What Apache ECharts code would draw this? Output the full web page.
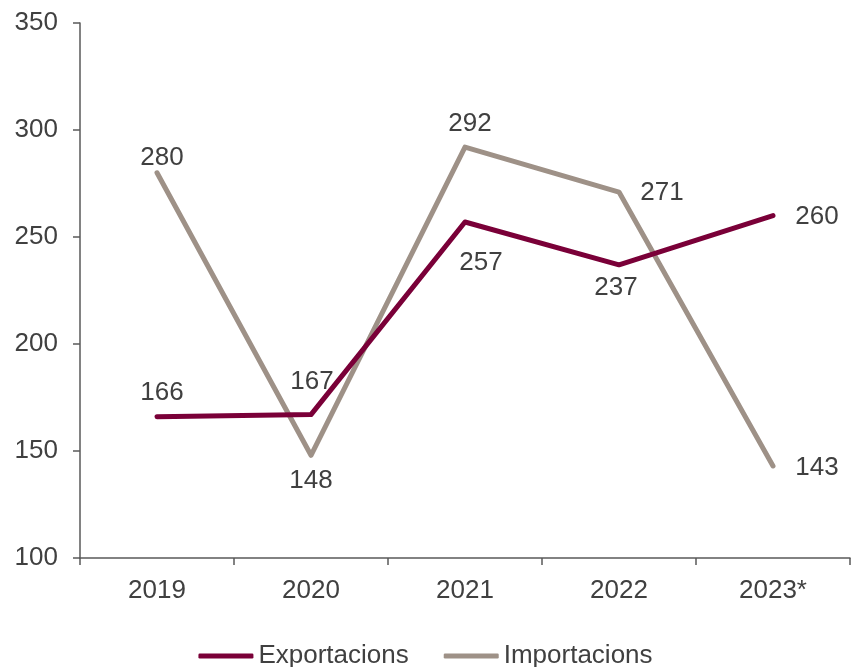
<!DOCTYPE html>
<html>
<head>
<meta charset="utf-8">
<script src="https://cdn.jsdelivr.net/npm/echarts@6/dist/echarts.min.js"></script>
<style>html,body{margin:0;padding:0;background:#fff;}#c{width:851px;height:667px;}</style>
</head>
<body>
<div id="c"></div>
<script>
const categories = ['2019', '2020', '2021', '2022', '2023*'];
const exportacions = [166, 167, 257, 237, 260];
const importacions = [280, 148, 292, 271, 143];
const yTicks = { min: 100, max: 350, interval: 50 };

// label offsets relative to each point (style only)
const expOffsets = [[5, -24], [1, -33], [16, 41], [-3, 23], [44, 1]];
const impOffsets = [[5, -15], [0, 26], [5, -23], [43, 1], [44, 2]];

const FONT = '"Liberation Sans", Arial, sans-serif';
const TXT = '#404040';
const FS = 26;

function mkData(vals, offs) {
  return vals.map((v, i) => ({
    value: v,
    label: { show: true, position: 'inside', offset: offs[i] }
  }));
}

const chart = echarts.init(document.getElementById('c'));
chart.setOption({
  animation: false,
  textStyle: { fontFamily: FONT },
  grid: { left: 80, right: 1, top: 23, bottom: 109, containLabel: false },
  legend: {
    top: 638,
    left: 'center',
    icon: 'roundRect',
    itemWidth: 55,
    itemHeight: 5,
    itemGap: 35,
    textStyle: { fontSize: FS, color: TXT, fontFamily: FONT },
    data: ['Exportacions', 'Importacions']
  },
  xAxis: {
    type: 'category',
    data: categories,
    boundaryGap: true,
    axisLine: { lineStyle: { color: '#595959', width: 1.5 } },
    axisTick: { show: true, length: 7, lineStyle: { color: '#595959', width: 1.5 } },
    axisLabel: { fontSize: FS, color: TXT, margin: 20, fontFamily: FONT },
    splitLine: { show: false }
  },
  yAxis: {
    type: 'value',
    min: yTicks.min, max: yTicks.max, interval: yTicks.interval,
    axisLine: { show: true, lineStyle: { color: '#595959', width: 1.5 } },
    axisTick: { show: true, length: 7, lineStyle: { color: '#595959', width: 1.5 } },
    axisLabel: { fontSize: FS, color: TXT, margin: 22, fontFamily: FONT },
    splitLine: { show: false }
  },
  series: [
    {
      name: 'Exportacions',
      type: 'line',
      data: mkData(exportacions, expOffsets),
      symbol: 'circle',
      symbolSize: 1,
      showSymbol: true,
      color: '#7A0038',
      lineStyle: { width: 5, color: '#7A0038', cap: 'round', join: 'round' },
      label: { fontSize: FS, color: TXT, fontFamily: FONT },
      z: 3
    },
    {
      name: 'Importacions',
      type: 'line',
      data: mkData(importacions, impOffsets),
      symbol: 'circle',
      symbolSize: 1,
      showSymbol: true,
      color: '#9E9187',
      lineStyle: { width: 5, color: '#9E9187', cap: 'round', join: 'round' },
      label: { fontSize: FS, color: TXT, fontFamily: FONT },
      z: 2
    }
  ]
});
</script>
</body>
</html>
